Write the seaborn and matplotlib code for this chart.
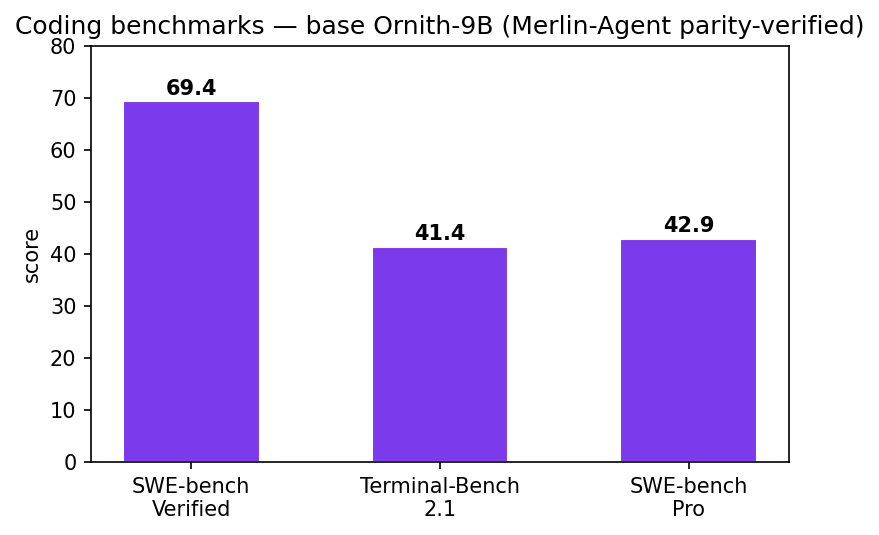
import matplotlib
matplotlib.use("Agg")
import matplotlib.pyplot as plt
import pandas as pd
import seaborn as sns

benchmarks = ["SWE-bench\nVerified", "Terminal-Bench\n2.1", "SWE-bench\nPro"]
scores = [69.4, 41.4, 42.9]

sns.set_style("ticks")
plt.rcParams["font.family"] = ["DejaVu Sans"]
plt.rcParams["text.color"] = "black"
plt.rcParams["axes.labelcolor"] = "black"
plt.rcParams["xtick.color"] = "black"
plt.rcParams["ytick.color"] = "black"
plt.rcParams["axes.edgecolor"] = "black"

df = pd.DataFrame({"benchmark": benchmarks, "score": scores})

fig = plt.figure(figsize=(879 / 150, 535 / 150), dpi=150)
ax = fig.add_axes([0.1035, 0.1364, 0.7941, 0.7776])

sns.barplot(data=df, x="benchmark", y="score", color="#7c3aed",
            saturation=1, width=0.55, ax=ax)

for i, v in enumerate(scores):
    ax.text(i, v + 0.5, f"{v:.1f}", ha="center", va="bottom",
            fontsize=10, fontweight="bold", color="black")

ax.set_xlim(-0.4025, 2.4025)
ax.set_ylim(0, 80)
ax.set_xlabel("")
ax.set_ylabel("score")
ax.set_title("Coding benchmarks — base Ornith-9B (Merlin-Agent parity-verified)",
             fontsize=12, color="black")
for s in ax.spines.values():
    s.set_visible(True)

fig.savefig("out.png", dpi=150)
